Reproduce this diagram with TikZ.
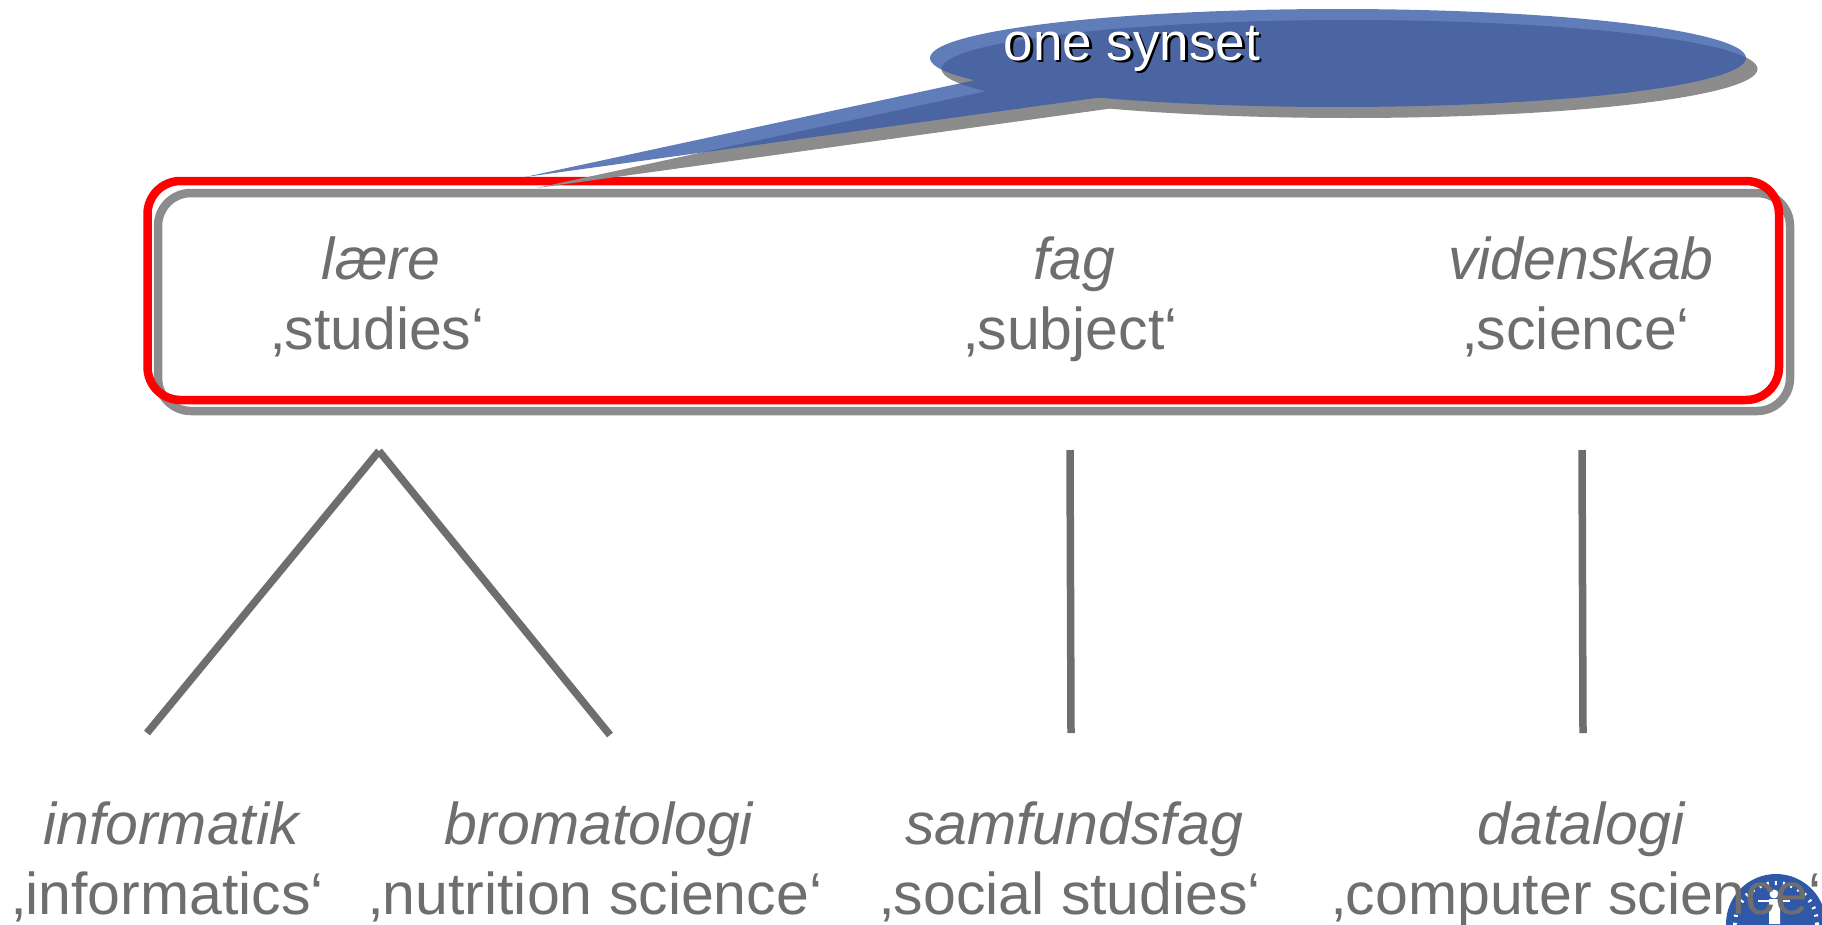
\documentclass[tikz,border=0pt]{standalone}
\usepackage{fontspec}
\setmainfont{Liberation Sans}
\definecolor{txtgray}{HTML}{6E6E6E}
\definecolor{shadowgray}{HTML}{8C8C8C}
\definecolor{bubbleblue}{HTML}{3A5CA8}
\definecolor{logoblue}{HTML}{2F58A8}
\tikzset{
  word/.style={text=txtgray,inner sep=0pt,anchor=base,font=\fontsize{59}{70}\selectfont\itshape},
  gloss/.style={text=txtgray,inner sep=0pt,anchor=base,font=\fontsize{59}{70}\selectfont},
  link/.style={draw=txtgray,line width=7.5pt},
  synbox/.style={line width=8.5pt,rounded corners=33pt},
  bubbletext/.style={inner sep=0pt,anchor=base,font=\fontsize{53}{60}\selectfont},
}
\newcommand{\bubblepath}{(525,177) -- plot[smooth,domain=153:486,samples=120] ({1338+408*cos(\x)},{58+49*sin(\x)}) -- cycle}
\begin{document}
\begin{tikzpicture}[x=1pt,y=-1pt]
\useasboundingbox (0,0) rectangle (1822,924);
% boxes, then the bubble with its shadow
\draw[shadowgray,synbox] (158,193) rectangle (1790,411);
\draw[red,synbox] (147.5,181) rectangle (1779,400);
\fill[shadowgray,shift={(11.5,11)}] \bubblepath;
\fill[bubbleblue,opacity=.8] \bubblepath;
\node[bubbletext,text=black] at (1134.5,62.5) {one synset};
\node[bubbletext,text=white] (syn) at (1132,60) {one synset};
% logo
\begin{scope}
\clip (0,0) rectangle (1822,924);
\fill[logoblue] (1776,924) circle (50);
\draw[white,line width=4pt,dash pattern=on 2pt off 6pt] (1776,924) circle (41);
\fill[white] (1774,894) circle (4.5) (1769,899) rectangle (1780,924);
\draw[white,line width=2pt] (1758,901) -- (1790,901);
\end{scope}
% words
\node[word] (laere) at (381,279) {l\ae re};
\node[gloss] (studies) at (378,349) {‚studies‘};
\node[word] (fag) at (1074,279) {fag};
\node[gloss] (subject) at (1071,349) {‚subject‘};
\node[word] (videnskab) at (1581,279) {videnskab};
\node[gloss] (science) at (1577,349) {‚science‘};
\node[word] (informatik) at (171,844) {informatik};
\node[gloss] (informatics) at (168,914) {‚informatics‘};
\node[word] (bromatologi) at (599,844) {bromatologi};
\node[gloss] (nutrition) at (596,914) {‚nutrition science‘};
\node[word] (samfundsfag) at (1074,844) {samfundsfag};
\node[gloss] (social) at (1071,914) {‚social studies‘};
\node[word] (datalogi) at (1581,844) {datalogi};
\node[gloss] (computer) at (1577,914) {‚computer science‘};
% connectors
\coordinate (peak) at (379,451);
\coordinate (a) at (147,733);
\coordinate (b) at (610,735);
\coordinate (c1) at (1070,450);
\coordinate (c2) at (1071,733);
\coordinate (d1) at (1582,450);
\coordinate (d2) at (1583,733);
\draw[link] (a) -- (peak);
\draw[link] (peak) -- (b);
\draw[link] (c1) -- (c2);
\draw[link] (d1) -- (d2);
\end{tikzpicture}
\end{document}
